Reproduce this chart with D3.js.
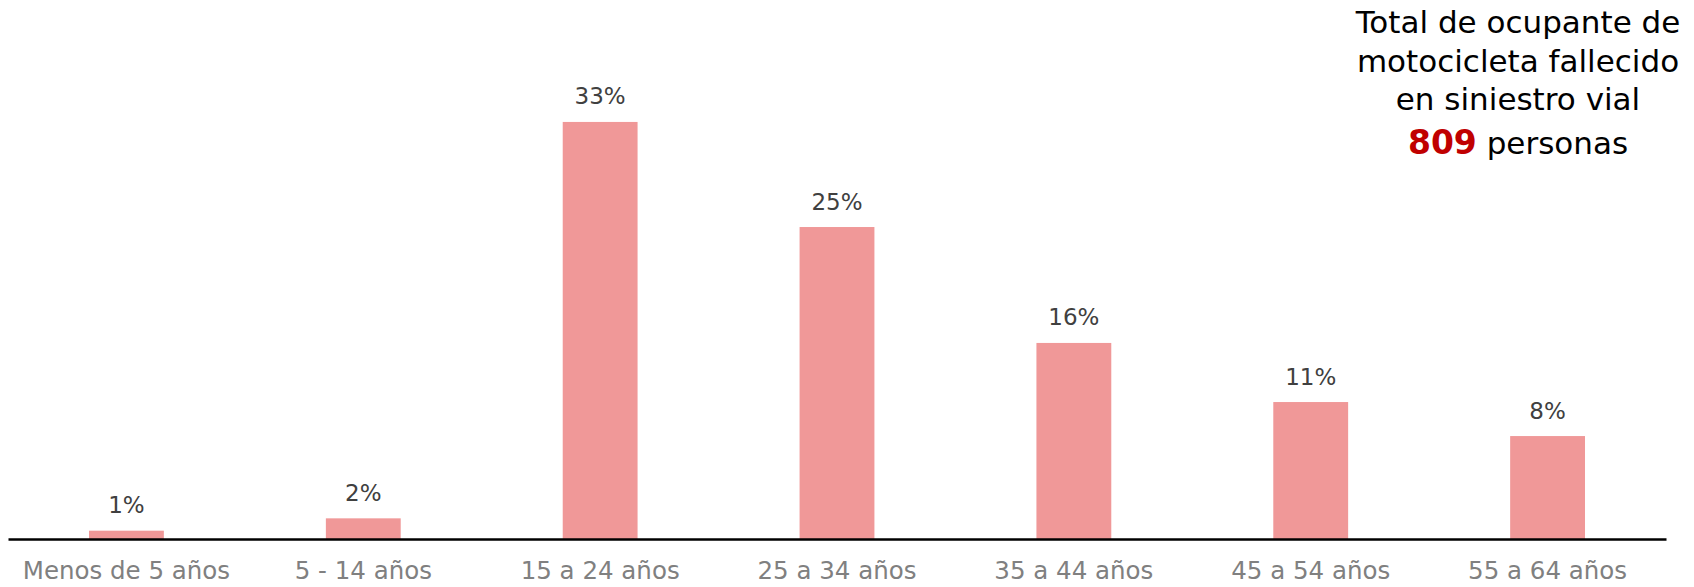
<!DOCTYPE html>
<html>
<head>
<meta charset="utf-8">
<script src="https://cdn.jsdelivr.net/npm/d3@7"></script>
<style>
  html, body { margin: 0; padding: 0; background: #fff; }
  svg { display: block; font-family: "DejaVu Sans", sans-serif; }
</style>
</head>
<body>
<svg id="chart" width="1694" height="587"></svg>
<script>
// age groups
const categories = ['Menos de 5 años', '5 - 14 años', '15 a 24 años', '25 a 34 años', '35 a 44 años', '45 a 54 años', '55 a 64 años'];
// share of motorcycle occupants killed (%)
const values = [0.66, 1.64, 33.1, 24.76, 15.56, 10.87, 8.17];
const valueLabels = ['1%', '2%', '33%', '25%', '16%', '11%', '8%'];
const titleLines = ['Total de ocupante de', 'motocicleta fallecido', 'en siniestro vial'];
const totalPersons = 809;

const svg = d3.select('#chart');
const baseY = 539;

const x = d3.scaleBand()
  .domain(categories)
  .range([8, 1666])
  .padding(0);

const y = d3.scaleLinear()
  .domain([0, 35])
  .range([baseY, baseY - 35 * 12.6]);

const barW = x.bandwidth() * 0.316;

// bars
svg.selectAll('.bar')
  .data(values)
  .enter().append('rect')
  .attr('class', 'bar')
  .attr('x', (d, i) => x(categories[i]) + x.bandwidth() / 2 - barW / 2)
  .attr('y', d => y(d))
  .attr('width', barW)
  .attr('height', d => baseY - y(d))
  .attr('fill', '#f09898');

// value labels
svg.selectAll('.vlab')
  .data(values)
  .enter().append('text')
  .attr('class', 'vlab')
  .attr('x', (d, i) => x(categories[i]) + x.bandwidth() / 2)
  .attr('y', d => y(d) - 17.5)
  .attr('text-anchor', 'middle')
  .attr('font-size', 23)
  .attr('fill', '#404040')
  .text((d, i) => valueLabels[i]);

// x axis
const xAxis = svg.append('g')
  .attr('transform', `translate(0, ${baseY})`)
  .call(d3.axisBottom(x).tickSize(0).tickPadding(23));
xAxis.select('.domain')
  .attr('stroke', '#000')
  .attr('stroke-width', 2.5);
xAxis.selectAll('text')
  .attr('font-family', '"DejaVu Sans", sans-serif')
  .attr('font-size', 24.5)
  .attr('fill', '#808080');

// annotation top right
const note = svg.append('g').attr('text-anchor', 'middle');
titleLines.forEach((t, i) => {
  note.append('text')
    .attr('x', 1518)
    .attr('y', 33 + i * 38.5)
    .attr('font-size', 31)
    .attr('fill', '#000')
    .text(t);
});
const last = note.append('text')
  .attr('x', 1518)
  .attr('y', 154)
  .attr('font-size', 31)
  .attr('fill', '#000');
last.append('tspan')
  .attr('font-weight', 'bold')
  .attr('font-size', 33)
  .attr('fill', '#c00000')
  .text(totalPersons);
last.append('tspan')
  .text(' personas');
</script>
</body>
</html>
